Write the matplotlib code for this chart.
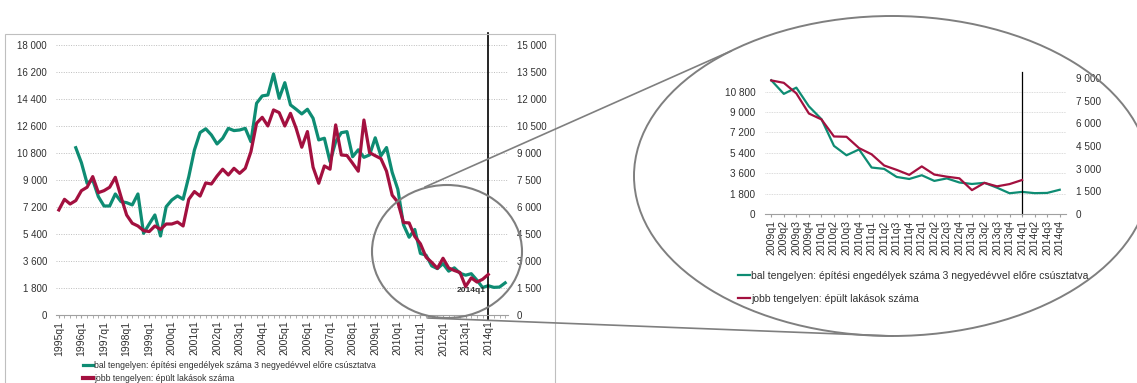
import matplotlib
matplotlib.use("Agg")
import matplotlib.pyplot as plt
import numpy as np
from matplotlib.patches import Ellipse, Rectangle
from matplotlib.lines import Line2D

plt.rcParams['font.family'] = ['Liberation Sans', 'DejaVu Sans']

W, H = 1137, 383
nan = np.nan

# negyedevek 1995q1 - 2014q4
negyedevek = [f"{ev}q{n}" for ev in range(1995, 2015) for n in range(1, 5)]

# bal tengely: epitesi engedelyek szama (3 negyedevvel elore csusztatva)
engedelyek = [nan, nan, nan, 11140, 10140, 8770, 8990, 7880, 7260, 7260,
              8060, 7550, 7480, 7330, 8060, 5440, 6060, 6660, 5260, 7210,
              7660, 7930, 7710, 9210, 10990, 12150, 12400, 11990, 11390, 11770,
              12430, 12280, 12320, 12430, 11540, 14100, 14590, 14650, 16050, 14430,
              15470, 13990, 13700, 13390, 13700, 13100, 11660, 11770, 10210, 11540,
              12140, 12210, 10540, 11000, 10500, 10660, 11800, 10600, 11150, 9500,
              8370, 6010, 5180, 5700, 4100, 3980, 3270, 3090, 3420, 2920,
              3140, 2780, 2650, 2750, 2320, 1830, 1950, 1840, 1860, 2140]

# jobb tengely: epult lakasok szama
epult = [5830, 6420, 6160, 6350, 6900, 7090, 7680, 6790, 6900, 7090,
         7640, 6570, 5550, 5090, 4940, 4680, 4630, 4940, 4750, 5050,
         5050, 5160, 4940, 6420, 6850, 6600, 7330, 7270, 7710, 8090,
         7770, 8140, 7860, 8140, 9060, 10640, 10970, 10490, 11380, 11230,
         10490, 11190, 10360, 9310, 10180, 8200, 7310, 8270, 8090, 10550,
         8880, 8850, 8420, 7980, 10820, 9010, 8840, 8680, 7980, 6650,
         6260, 5130, 5110, 4360, 3950, 3210, 2920, 2590, 3150, 2610,
         2470, 2360, 1580, 2060, 1830, 1980, 2250, nan, nan, nan]

kezdet_nagyitas = 56  # 2009q1
jelolt = 76           # 2014q1

zold = '#0E8C73'
piros = '#A3103F'
szurke = '#7F7F7F'
szoveg = '#303030'

label_bal = 'bal tengelyen: építési engedélyek száma 3 negyedévvel előre csúsztatva'
label_jobb = 'jobb tengelyen: épült lakások száma'


def box(l, t, r, b):
    return [l / W, 1 - b / H, (r - l) / W, (b - t) / H]


def ezres(v, pos=None):
    return f"{v:,.0f}".replace(",", " ")


fig = plt.figure(figsize=(W / 100, H / 100), dpi=100)

# ---- bal oldali teljes abra
ax = fig.add_axes(box(56, 44.7, 508, 315))
x = np.arange(len(negyedevek))
ax.plot(x, engedelyek, color=zold, lw=2.3, solid_joinstyle='round')
ax.set_xlim(-0.5, len(negyedevek) - 0.5)
ax.set_ylim(0, 18000)
ax.set_yticks(np.arange(0, 18001, 1800))
ax.yaxis.set_major_formatter(plt.FuncFormatter(ezres))
ax.grid(axis='y', color='#BDBDBD', linestyle=(0, (1, 1.5)), lw=0.7)
ax.set_xticks(x[::4])
ax.set_xticklabels(negyedevek[::4], rotation=90, fontsize=7.5, color=szoveg)
ax.set_xticks(x, minor=True)
ax.tick_params(axis='x', which='both', length=2, color='#A0A0A0', pad=2)
ax.tick_params(axis='y', length=0, pad=6.5, labelsize=7, labelcolor=szoveg)
for s in ['left', 'right', 'top']:
    ax.spines[s].set_visible(False)
ax.spines['bottom'].set_color('#A0A0A0')

ax2 = ax.twinx()
ax2.plot(x, epult, color=piros, lw=2.3, solid_joinstyle='round')
ax2.set_ylim(0, 15000)
ax2.set_yticks(np.arange(0, 15001, 1500))
ax2.yaxis.set_major_formatter(plt.FuncFormatter(ezres))
ax2.tick_params(axis='y', length=0, pad=6.5, labelsize=7, labelcolor=szoveg)
for s in ax2.spines.values():
    s.set_visible(False)

ax.axvline(jelolt, ymin=-0.02, ymax=1.043, color='black', lw=1.2, clip_on=False)
ax.text(jelolt - 0.5, 1650, negyedevek[jelolt], ha='right', va='center',
        fontsize=6, fontweight='bold', color=szoveg)

fig.legend([Line2D([], [], color=zold, lw=2.3), Line2D([], [], color=piros, lw=3)],
           [label_bal, label_jobb], loc='upper left',
           bbox_to_anchor=(83 / W, 1 - 361 / H), frameon=False, fontsize=6.25,
           handlelength=1.15, handletextpad=0.1, borderpad=0, borderaxespad=0,
           labelspacing=0.5, labelcolor=szoveg)

# ---- jobb oldali nagyitas
axr = fig.add_axes(box(765, 78, 1066, 214))
xr = np.arange(len(negyedevek) - kezdet_nagyitas)
axr.plot(xr, engedelyek[kezdet_nagyitas:], color=zold, lw=1.6)
axr.set_xlim(-0.5, len(xr) - 0.5)
axr.set_ylim(0, 12000)
axr.set_yticks(np.arange(0, 10801, 1800))
axr.yaxis.set_major_formatter(plt.FuncFormatter(ezres))
axr.grid(axis='y', color='#D0D0D0', linestyle=(0, (1, 1)), lw=0.6)
axr.set_xticks(xr)
axr.set_xticklabels(negyedevek[kezdet_nagyitas:], rotation=90, fontsize=7.6, color=szoveg)
axr.tick_params(axis='x', length=2.5, color='#A0A0A0', pad=2)
axr.tick_params(axis='y', length=0, pad=7, labelsize=7.2, labelcolor=szoveg)
for s in ['left', 'right', 'top']:
    axr.spines[s].set_visible(False)
axr.spines['bottom'].set_color('#A0A0A0')

axr2 = axr.twinx()
axr2.plot(xr, epult[kezdet_nagyitas:], color=piros, lw=1.6)
axr2.set_ylim(0, 9000)
axr2.set_yticks(np.arange(0, 9001, 1500))
axr2.yaxis.set_major_formatter(plt.FuncFormatter(ezres))
axr2.tick_params(axis='y', length=0, pad=7, labelsize=7.2, labelcolor=szoveg)
for s in axr2.spines.values():
    s.set_visible(False)
axr.axvline(jelolt - kezdet_nagyitas, ymin=0, ymax=1.044, color='black', lw=0.9, clip_on=False)

fig.legend([Line2D([], [], color=zold, lw=1.6), Line2D([], [], color=piros, lw=1.6)],
           [label_bal, label_jobb], loc='upper left',
           bbox_to_anchor=(738 / W, 1 - 271 / H), frameon=False, fontsize=7.5,
           handlelength=1.15, handletextpad=0.1, borderpad=0, borderaxespad=0,
           labelspacing=1.25, labelcolor=szoveg)

# ---- keret, korok, osszekoto vonalak
fig.add_artist(Rectangle((5 / W, 1 - 395 / H), 550 / W, 361 / H, transform=fig.transFigure,
                         facecolor='none', edgecolor='#BFBFBF', lw=0.8))
fig.add_artist(Ellipse((447 / W, 1 - 251.5 / H), 150 / W, 133 / H, transform=fig.transFigure,
                       facecolor='none', edgecolor=szurke, lw=1.5))
fig.add_artist(Ellipse((892 / W, 1 - 176 / H), 516 / W, 320 / H, transform=fig.transFigure,
                       facecolor='none', edgecolor=szurke, lw=1.4))
fig.add_artist(Line2D([425 / W, 731 / W], [1 - 187 / H, 1 - 51 / H], transform=fig.transFigure,
                      color=szurke, lw=1.2))
fig.add_artist(Line2D([428 / W, 893 / W], [1 - 318 / H, 1 - 336 / H], transform=fig.transFigure,
                      color=szurke, lw=1.2))

fig.savefig('out.png', dpi=100, facecolor='white')
